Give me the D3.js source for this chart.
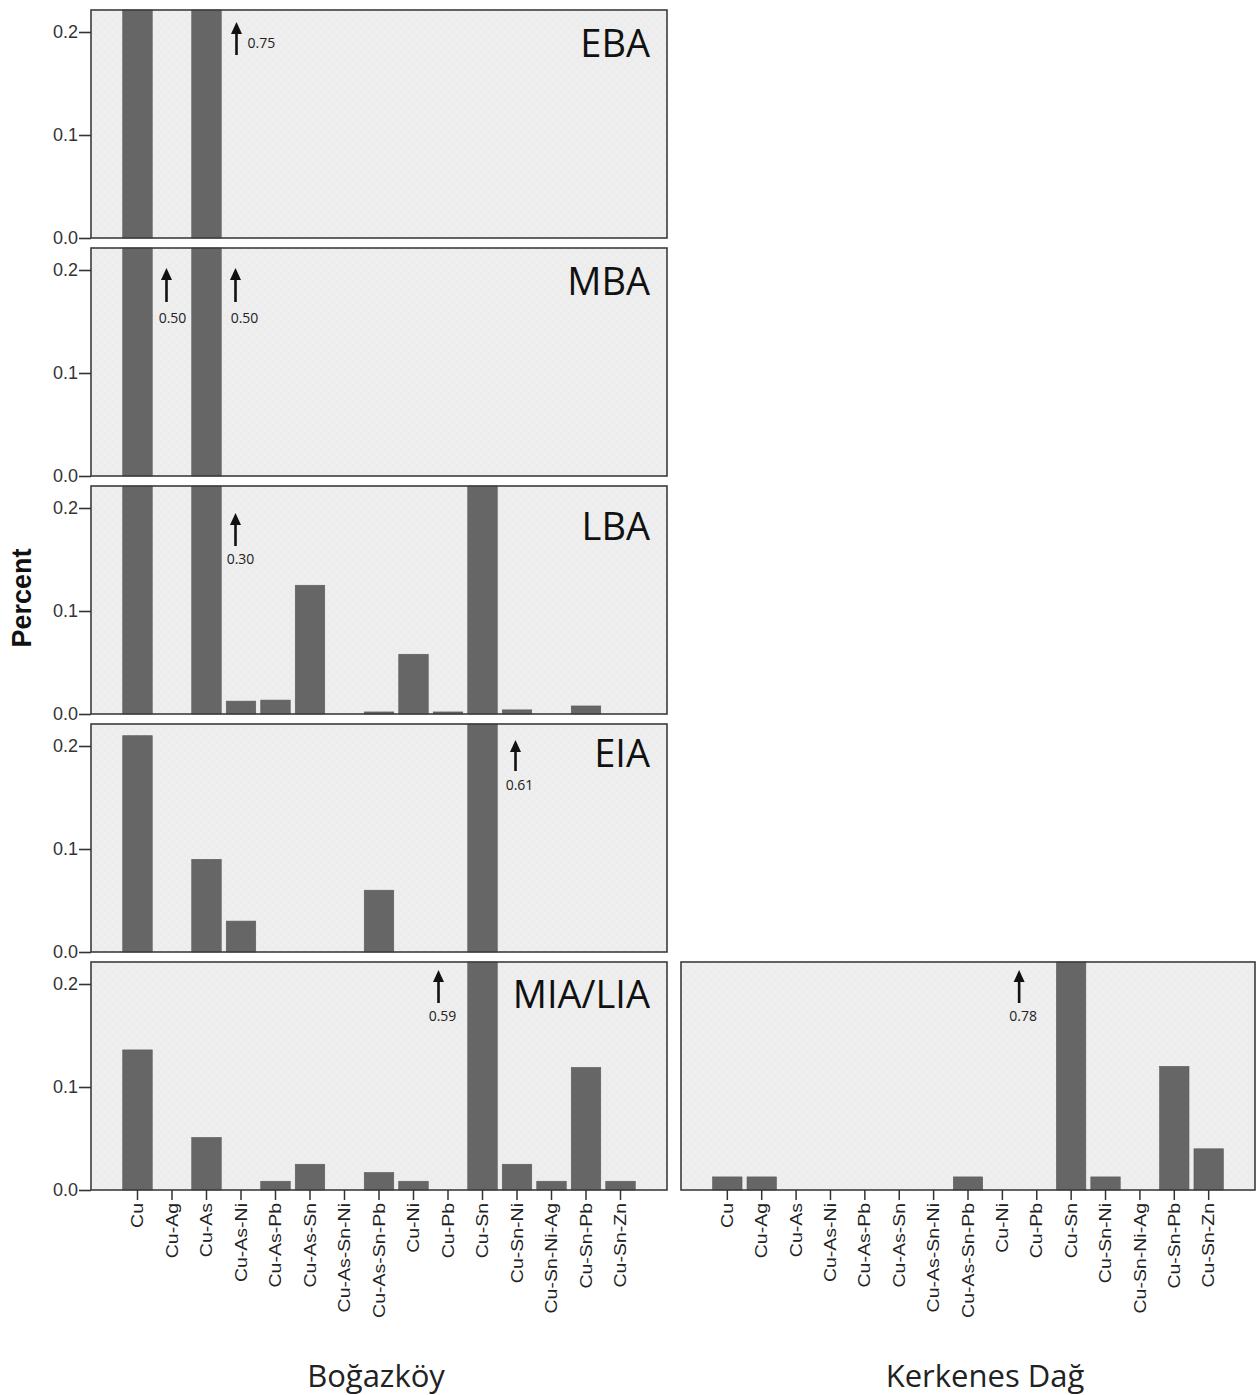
<!DOCTYPE html>
<html>
<head>
<meta charset="utf-8">
<script src="https://cdn.jsdelivr.net/npm/d3@7"></script>
<style>
  html, body { margin: 0; padding: 0; background: #fff; }
  svg { display: block; }
</style>
</head>
<body>
<svg id="chart" width="1256" height="1395"></svg>
<script>
// ---------------- DATA ----------------
const categories = ["Cu", "Cu-Ag", "Cu-As", "Cu-As-Ni", "Cu-As-Pb", "Cu-As-Sn", "Cu-As-Sn-Ni",
  "Cu-As-Sn-Pb", "Cu-Ni", "Cu-Pb", "Cu-Sn", "Cu-Sn-Ni", "Cu-Sn-Ni-Ag", "Cu-Sn-Pb", "Cu-Sn-Zn"];
const periods = ["EBA", "MBA", "LBA", "EIA", "MIA/LIA"];
const sites = ["Boğazköy", "Kerkenes Dağ"];
const yTicks = [0.0, 0.1, 0.2];

const bogazkoyEBA    = [0.25, 0, 0.75, 0, 0, 0, 0, 0, 0, 0, 0, 0, 0, 0, 0];
const bogazkoyMBA    = [0.50, 0, 0.50, 0, 0, 0, 0, 0, 0, 0, 0, 0, 0, 0, 0];
const bogazkoyLBA    = [0.24, 0, 0.30, 0.0125, 0.0135, 0.125, 0, 0.002, 0.058, 0.002, 0.238, 0.004, 0, 0.0078, 0];
const bogazkoyEIA    = [0.21, 0, 0.09, 0.03, 0, 0, 0, 0.06, 0, 0, 0.61, 0, 0, 0, 0];
const bogazkoyMIALIA = [0.136, 0, 0.051, 0, 0.0085, 0.025, 0, 0.017, 0.0085, 0, 0.59, 0.025, 0.0085, 0.119, 0.0085];
const kerkenesMIALIA = [0.0127, 0.0127, 0, 0, 0, 0, 0, 0.0127, 0, 0, 0.78, 0.0127, 0, 0.12, 0.04];

// Off-scale value annotations (text)
const annotations = [
  { period: "EBA",     site: "Boğazköy",     category: "Cu-As", text: "0.75" },
  { period: "MBA",     site: "Boğazköy",     category: "Cu",    text: "0.50" },
  { period: "MBA",     site: "Boğazköy",     category: "Cu-As", text: "0.50" },
  { period: "LBA",     site: "Boğazköy",     category: "Cu-As", text: "0.30" },
  { period: "EIA",     site: "Boğazköy",     category: "Cu-Sn", text: "0.61" },
  { period: "MIA/LIA", site: "Boğazköy",     category: "Cu-Sn", text: "0.59" },
  { period: "MIA/LIA", site: "Kerkenes Dağ", category: "Cu-Sn", text: "0.78" }
];

// ---------------- LAYOUT ----------------
const annotationLayout = [
  { dx: 30,  top: 12, bottom: 45, labelDx: 11, labelDy: 38, anchor: "start" },
  { dx: 29,  top: 20, bottom: 54, labelDx: 6,  labelDy: 75, anchor: "middle" },
  { dx: 29,  top: 20, bottom: 54, labelDx: 9,  labelDy: 75, anchor: "middle" },
  { dx: 29,  top: 27, bottom: 60, labelDx: 5,  labelDy: 78, anchor: "middle" },
  { dx: 33,  top: 16, bottom: 47, labelDx: 4,  labelDy: 66, anchor: "middle" },
  { dx: -44, top: 8,  bottom: 41, labelDx: 4,  labelDy: 59, anchor: "middle" },
  { dx: -52, top: 8,  bottom: 41, labelDx: 4,  labelDy: 59, anchor: "middle" }
];
const periodLabelDy = [47, 47, 54, 43, 46];

const seriesBySite = {
  "Boğazköy": { "EBA": bogazkoyEBA, "MBA": bogazkoyMBA, "LBA": bogazkoyLBA, "EIA": bogazkoyEIA, "MIA/LIA": bogazkoyMIALIA },
  "Kerkenes Dağ": { "MIA/LIA": kerkenesMIALIA }
};

const panelH = 228, panelGap = 10, topY = 10;
const cols = [
  { site: "Boğazköy", x0: 91, x1: 667, labelX: 376 },
  { site: "Kerkenes Dağ", x0: 681, x1: 1255, labelX: 985 }
];

const svg = d3.select("#chart");
const defs = svg.append("defs");
const pat = defs.append("pattern").attr("id", "dots").attr("patternUnits", "userSpaceOnUse")
  .attr("width", 8).attr("height", 8);
pat.append("rect").attr("width", 8).attr("height", 8).attr("fill", "#ededed");
pat.append("circle").attr("cx", 2).attr("cy", 2).attr("r", 0.7).attr("fill", "#fafafa");
pat.append("circle").attr("cx", 6).attr("cy", 6).attr("r", 0.7).attr("fill", "#fafafa");

const y = d3.scaleLinear().domain([0, panelH / 1030]).range([panelH, 0]).clamp(true);

const arrowColor = "#111";

cols.forEach((col, ci) => {
  const x = d3.scaleBand().domain(categories).range([0, col.x1 - col.x0])
    .paddingInner(0.145).paddingOuter(0.92);
  periods.forEach((period, pi) => {
    const vals = seriesBySite[col.site][period];
    if (!vals) return;
    const py = topY + pi * (panelH + panelGap);
    const g = svg.append("g").attr("transform", `translate(${col.x0},${py})`);
    g.append("rect").attr("width", col.x1 - col.x0).attr("height", panelH)
      .attr("fill", "url(#dots)");

    const data = categories.map((c, i) => ({ c, v: vals[i] })).filter(d => d.v > 0);
    g.selectAll("rect.bar").data(data).enter().append("rect")
      .attr("class", "bar")
      .attr("x", d => x(d.c))
      .attr("width", x.bandwidth())
      .attr("y", d => y(d.v))
      .attr("height", d => panelH - y(d.v))
      .attr("fill", "#666666")
      .attr("stroke", "#5a5a5a").attr("stroke-width", 0.6);

    g.append("rect").attr("width", col.x1 - col.x0).attr("height", panelH)
      .attr("fill", "none").attr("stroke", "#3c3c3c").attr("stroke-width", 1.6);

    // Y axis (left column only)
    if (ci === 0) {
      const ya = g.append("g").call(d3.axisLeft(y).tickValues(yTicks).tickFormat(d3.format(".1f"))
        .tickSize(12).tickPadding(1));
      ya.select(".domain").remove();
      ya.selectAll(".tick line").attr("stroke", "#333").attr("stroke-width", 1.6);
      ya.selectAll(".tick text").attr("font-family", "'Liberation Sans', Arial, sans-serif")
        .attr("font-size", 18).attr("fill", "#333");
    }

    // period label
    if (ci === 0) {
      g.append("text").attr("x", (col.x1 - col.x0) - 17).attr("y", periodLabelDy[pi])
        .attr("text-anchor", "end").attr("font-family", "'Open Sans', sans-serif")
        .attr("font-size", 38).attr("fill", "#111").text(period);
    }

    // annotations
    annotations.forEach((a, ai) => {
      if (a.period !== period || a.site !== col.site) return;
      const L = annotationLayout[ai];
      const ax = x(a.category) + x.bandwidth() / 2 + L.dx;
      g.append("line").attr("x1", ax).attr("x2", ax).attr("y1", L.top + 8).attr("y2", L.bottom)
        .attr("stroke", arrowColor).attr("stroke-width", 2.6);
      g.append("path").attr("d", `M${ax},${L.top} L${ax - 5.5},${L.top + 12} L${ax + 5.5},${L.top + 12} Z`)
        .attr("fill", arrowColor);
      g.append("text").attr("x", ax + L.labelDx).attr("y", L.labelDy)
        .attr("text-anchor", L.anchor).attr("font-family", "'Open Sans', sans-serif")
        .attr("font-size", 14).attr("fill", "#222").text(a.text);
    });

    // X axis on bottom panels
    if (pi === periods.length - 1) {
      const xa = g.append("g").attr("transform", `translate(0,${panelH})`)
        .call(d3.axisBottom(x).tickSize(10).tickFormat(""));
      xa.select(".domain").remove();
      xa.selectAll(".tick line").attr("stroke", "#333").attr("stroke-width", 1.5);
      xa.selectAll(".tick").append("text")
        .attr("transform", "translate(0,13) rotate(-90) scale(1.22,1)")
        .attr("text-anchor", "end").attr("dy", "0.35em")
        .attr("font-family", "'Liberation Sans', Arial, sans-serif")
        .attr("font-size", 16).attr("fill", "#222")
        .text(d => d);
    }
  });
  // site label
  svg.append("text").attr("x", col.labelX).attr("y", 1387).attr("text-anchor", "middle")
    .attr("font-family", "'Open Sans', sans-serif").attr("font-size", 31).attr("fill", "#222")
    .text(col.site);
});

// Y axis title
svg.append("text").attr("transform", "translate(31,598) rotate(-90)")
  .attr("text-anchor", "middle").attr("font-family", "'Liberation Sans', Arial, sans-serif")
  .attr("font-weight", "bold").attr("font-size", 27).attr("fill", "#111").text("Percent");
</script>
</body>
</html>
